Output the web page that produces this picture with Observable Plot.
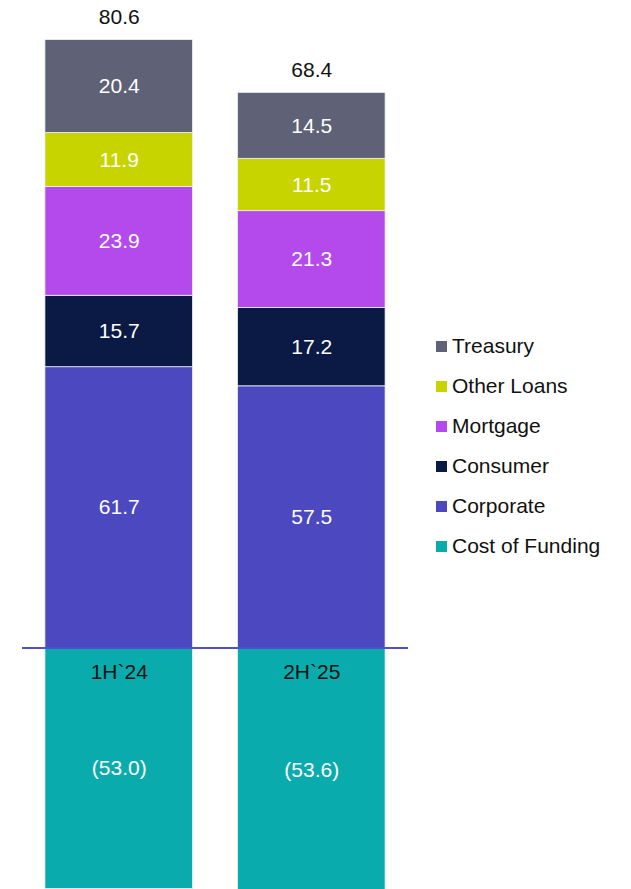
<!DOCTYPE html>
<html>
<head>
<meta charset="utf-8">
<script src="https://cdn.jsdelivr.net/npm/d3@7"></script>
<script src="https://cdn.jsdelivr.net/npm/@observablehq/plot@0.6"></script>
<style>
  html, body { margin: 0; padding: 0; background: #fff; }
  #wrap { position: relative; width: 631px; height: 889px; font-family: "Liberation Sans", Arial, sans-serif; }
  #legend { position: absolute; left: 436px; top: 342px; }
  .li { display: flex; align-items: center; height: 40px; font-size: 21px; color: #111; margin-top: -16px; margin-bottom: 16px;}
  .li .sw { width: 11px; height: 11px; margin-right: 5px; }
</style>
</head>
<body>
<div id="wrap"></div>
<script>
const periods = ["1H`24", "2H`25"];
const seriesNames = ["Corporate", "Consumer", "Mortgage", "Other Loans", "Treasury", "Cost of Funding"];
const corporate = [61.7, 57.5];
const consumer = [15.7, 17.2];
const mortgage = [23.9, 21.3];
const otherLoans = [11.9, 11.5];
const treasury = [20.4, 14.5];
const costOfFunding = [-53.0, -53.6];
const seriesColors = ["#4B48C0", "#0B1A45", "#B44AEB", "#C8D400", "#5F6176", "#0AABAD"];
const legendOrder = ["Treasury", "Other Loans", "Mortgage", "Consumer", "Corporate", "Cost of Funding"];

const valuesBySeries = [corporate, consumer, mortgage, otherLoans, treasury, costOfFunding];
const rows = [];
seriesNames.forEach((s, i) => {
  periods.forEach((p, j) => rows.push({period: p, series: s, value: valuesBySeries[i][j]}));
});
const positiveTop = periods.map(p => ({period: p, top: d3.sum(rows.filter(r => r.period === p && r.value > 0), r => r.value), net: d3.sum(rows.filter(r => r.period === p), r => r.value)}));

const fmt = v => v < 0 ? `(${d3.format(".1f")(-v)})` : d3.format(".1f")(v);

const chart = Plot.plot({
  width: 631,
  height: 889,
  marginLeft: 22,
  marginRight: 223,
  marginTop: 0,
  marginBottom: 0,
  style: {fontFamily: "Liberation Sans, Arial, sans-serif", fontSize: "21px", background: "#fff"},
  x: {domain: periods, paddingInner: 0.2332, paddingOuter: 0.119, round: false, axis: null},
  y: {domain: [-53.1, 142.3], axis: null},
  color: {domain: seriesNames, range: seriesColors},
  marks: [
    Plot.barY(rows, Plot.stackY({x: "period", y: "value", fill: "series", stroke: "#eef2f8", strokeWidth: 0.8, clip: true})),
    Plot.ruleY([0], {stroke: "#5050C8", strokeWidth: 2}),
    Plot.text(rows, Plot.stackY({x: "period", y: "value", z: "series", text: d => fmt(d.value), fill: "white", fontSize: 21})),
    Plot.text(positiveTop, {x: "period", y: "top", text: d => fmt(d.net), dy: -23, fill: "#111", fontSize: 21}),
    Plot.text(periods, {x: d => d, y: () => 0, text: d => d, dy: 24, fill: "#111", fontSize: 21})
  ]
});

const wrap = document.getElementById("wrap");
wrap.appendChild(chart);
const legend = document.createElement("div");
legend.id = "legend";
legendOrder.forEach(name => {
  const row = document.createElement("div");
  row.className = "li";
  const sw = document.createElement("span");
  sw.className = "sw";
  sw.style.background = seriesColors[seriesNames.indexOf(name)];
  const t = document.createElement("span");
  t.textContent = name;
  row.appendChild(sw);
  row.appendChild(t);
  legend.appendChild(row);
});
wrap.appendChild(legend);
</script>
</body>
</html>
